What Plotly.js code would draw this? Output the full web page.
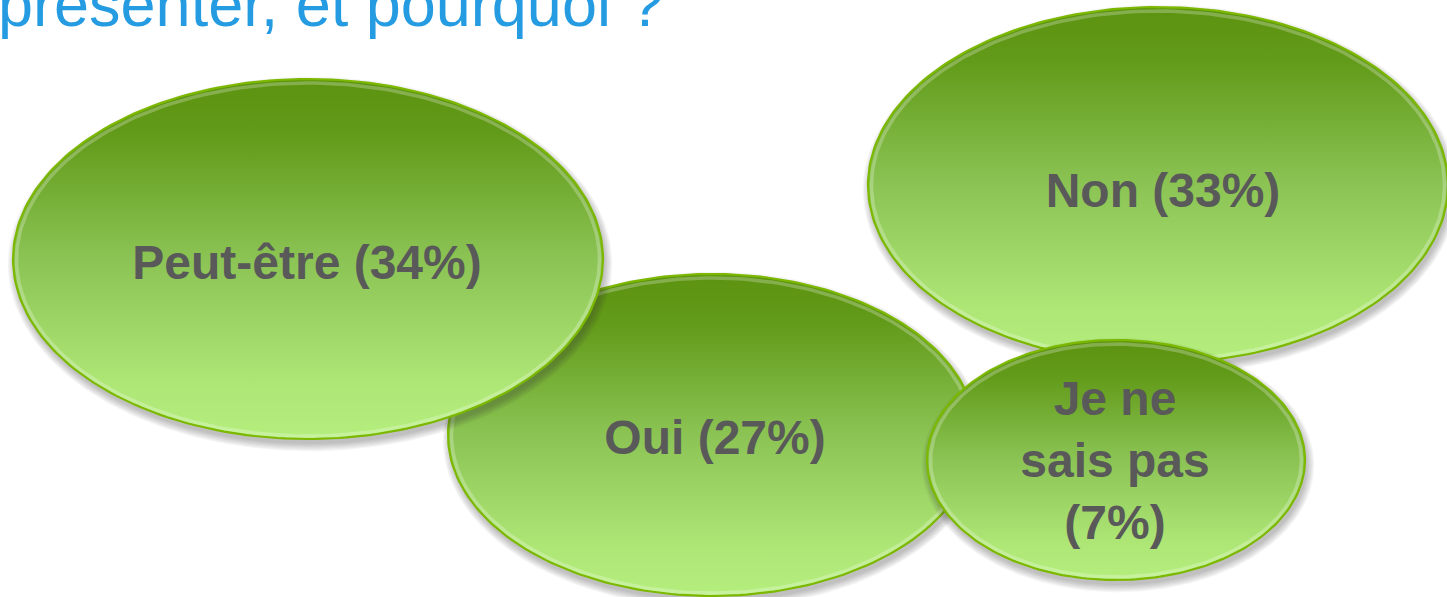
<!DOCTYPE html>
<html>
<head>
<meta charset="utf-8">
<script src="https://cdn.plot.ly/plotly-3.0.1.min.js"></script>
<style>
  html, body { margin: 0; padding: 0; background: #ffffff; }
  #chart { width: 1447px; height: 597px; }
</style>
</head>
<body>
<div id="chart"></div>
<script>
// Survey answers and their shares (%)
const categories = ['Peut-être', 'Oui', 'Non', 'Je ne<br>sais pas'];
const shares = [34, 27, 33, 7];
const labelJoin = [' ', ' ', ' ', '<br>'];

// Bubble geometry in pixel space (centre, radii) and label anchors
const bubbleCx = [308, 712, 1158, 1116];
const bubbleCy = [259, 435, 185, 460];
const bubbleRx = [295, 264, 290, 189];
const bubbleRy = [180, 161, 178, 120];
const labelX = [307, 715, 1163, 1115];
const labelY = [267, 442, 195, 465];
const drawOrder = [1, 0, 2, 3];

const titleText = 'présenter, et pourquoi ?';

const W = 1447, H = 597;
const N = 240;

function ellipse(cx, cy, rx, ry) {
  const xs = [], ys = [];
  for (let i = 0; i <= N; i++) {
    const t = 2 * Math.PI * i / N;
    xs.push(cx + rx * Math.cos(t));
    ys.push(cy + ry * Math.sin(t));
  }
  return { xs, ys };
}

const traces = [];
drawOrder.forEach(function (i) {
  const cx = bubbleCx[i], cy = bubbleCy[i], rx = bubbleRx[i], ry = bubbleRy[i];
  // soft drop shadow built from stacked translucent rings
  for (let k = 6; k >= 0; k--) {
    const s = ellipse(cx + 2, cy + 5, rx + k * 1.2, ry + k * 1.2);
    traces.push({
      type: 'scatter', mode: 'lines', x: s.xs, y: s.ys,
      fill: 'toself', fillcolor: 'rgba(60,60,60,0.05)',
      line: { width: 0, color: 'rgba(0,0,0,0)' },
      hoverinfo: 'skip', showlegend: false
    });
  }
  // gradient body
  const e = ellipse(cx, cy, rx, ry);
  traces.push({
    type: 'scatter', mode: 'lines', x: e.xs, y: e.ys,
    fill: 'toself',
    fillgradient: {
      type: 'vertical',
      start: cy - ry,
      stop: cy + ry,
      colorscale: [
        [0, '#5c9411'],
        [0.15, '#629a19'],
        [0.5, '#8bc454'],
        [0.85, '#afe777'],
        [1, '#b4ee7d']
      ]
    },
    line: { width: 2.2, color: '#7cb800' },
    hoverinfo: 'skip', showlegend: false
  });
  // light inner rim
  const r = ellipse(cx, cy + 0.5, rx - 3.5, ry - 3.5);
  traces.push({
    type: 'scatter', mode: 'lines', x: r.xs, y: r.ys,
    line: { width: 3.5, color: 'rgba(255,255,255,0.25)' },
    hoverinfo: 'skip', showlegend: false
  });
  // label
  traces.push({
    type: 'scatter', mode: 'text',
    x: [labelX[i]], y: [labelY[i]],
    text: [categories[i] + labelJoin[i] + '(' + shares[i] + '%)'],
    textposition: 'middle center',
    textfont: { family: '"Liberation Sans", Arial, sans-serif', size: 48, color: '#595959', weight: 'bold' },
    hoverinfo: 'skip', showlegend: false, cliponaxis: false
  });
});

const layout = {
  width: W, height: H,
  margin: { l: 0, r: 0, t: 0, b: 0, pad: 0 },
  paper_bgcolor: '#ffffff', plot_bgcolor: '#ffffff',
  showlegend: false, hovermode: false,
  xaxis: { range: [0, W], visible: false, fixedrange: true },
  yaxis: { range: [H, 0], visible: false, fixedrange: true },
  annotations: [{
    text: titleText,
    xref: 'paper', yref: 'paper', x: -4 / W, y: 1 - 4 / H,
    xanchor: 'left', yanchor: 'middle',
    showarrow: false,
    font: { family: '"Liberation Sans", Arial, sans-serif', size: 63, color: '#259ce2' }
  }]
};

Plotly.newPlot('chart', traces, layout, { staticPlot: true, displayModeBar: false });
</script>
</body>
</html>
